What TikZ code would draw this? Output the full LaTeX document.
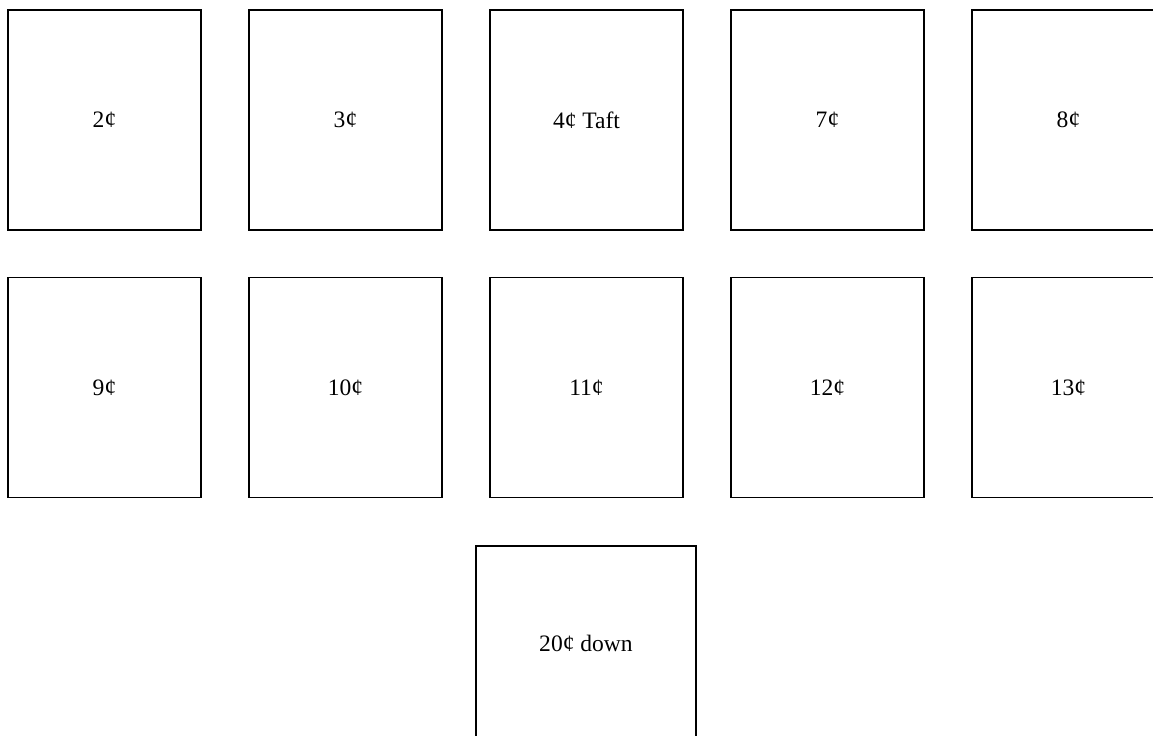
\documentclass[tikz,border=0pt]{standalone}
\usepackage{fontspec}
\setmainfont{Liberation Serif}
\usetikzlibrary{positioning}
\tikzset{
  stamp/.style={draw=black,line width=1.1pt,fill=white,minimum width=3.86cm,
    minimum height=4.4cm,inner sep=0pt,font=\fontsize{13.4}{16}\selectfont},
}
\begin{document}
\begin{tikzpicture}[x=0.02cm,y=-0.02cm]
    \clip (0,0) rectangle (1153,736);
    \fill[white] (0,0) rectangle (1153,736);
    % first row
    \foreach \lbl [count=\i] in {2¢,3¢,4¢ Taft,7¢,8¢}
      \node[stamp] (top\i) at ({104.5+241*(\i-1)},120) {\lbl};
    % second row
    \foreach \lbl [count=\i] in {9¢,10¢,11¢,12¢,13¢}
      \node[stamp] (mid\i) at ({104.5+241*(\i-1)},387.5) {\lbl};
    % last one
    \node[stamp,minimum width=4.4cm,minimum height=3.88cm] (low) at (586,643) {20¢ down};
\end{tikzpicture}
\end{document}
